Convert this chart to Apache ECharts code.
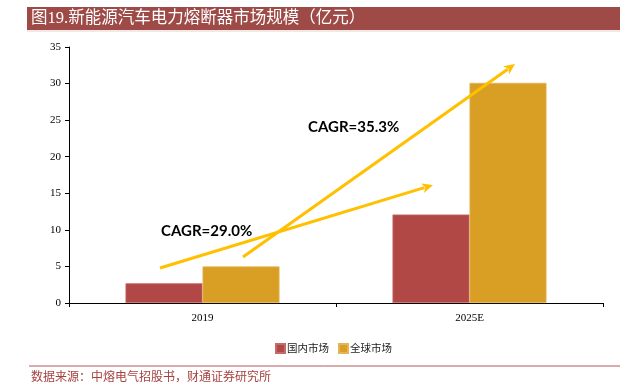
<!DOCTYPE html>
<html>
<head>
<meta charset="utf-8">
<script src="https://cdn.jsdelivr.net/npm/echarts@6/dist/echarts.min.js"></script>
<style>html,body{margin:0;padding:0;background:#fff;}#c{width:642px;height:386px;}</style>
</head>
<body>
<div id="c"></div>
<script>
const categories = ['2019', '2025E'];
const seriesNames = ['国内市场', '全球市场'];
const domestic = [2.7, 12.1];
const global = [5.0, 30.1];
const yTicks = [0, 5, 10, 15, 20, 25, 30, 35];
const titleText = '图19.新能源汽车电力熔断器市场规模（亿元）';
const sourceText = '数据来源：中熔电气招股书，财通证券研究所';
const cagrLabels = ['CAGR=29.0%', 'CAGR=35.3%'];

const arrowColor = '#FFC000';
function arrow(x1, y1, x2, y2) {
  const a = Math.atan2(y2 - y1, x2 - x1);
  const L = 11, W = 5;
  const bx = x2 - L * Math.cos(a), by = y2 - L * Math.sin(a);
  const px = -Math.sin(a) * W, py = Math.cos(a) * W;
  return [
    { type: 'line', shape: { x1: x1, y1: y1, x2: bx + 2*Math.cos(a), y2: by + 2*Math.sin(a) }, style: { stroke: arrowColor, lineWidth: 3 }, z: 10 },
    { type: 'polygon', shape: { points: [[x2, y2], [bx + px, by + py], [bx + 3*Math.cos(a), by + 3*Math.sin(a)], [bx - px, by - py]] }, style: { fill: arrowColor }, z: 10 }
  ];
}

const chart = echarts.init(document.getElementById('c'), null, { renderer: 'canvas' });
const serif = '"Liberation Serif", "Times New Roman", "Noto Sans CJK SC", serif';
chart.setOption({
  animation: false,
  backgroundColor: '#fff',
  grid: { left: 69, right: 39, top: 47, bottom: 83, containLabel: false },
  legend: {
    data: seriesNames,
    left: 270, top: 338,
    itemWidth: 9, itemHeight: 9, itemGap: 9,
    icon: 'rect',
    textStyle: { fontSize: 10.5, color: '#222', fontFamily: '"Noto Sans CJK SC", sans-serif', padding: [0, 0, 0, -3] }
  },
  xAxis: {
    type: 'category',
    data: categories,
    axisLine: { lineStyle: { color: '#000', width: 1 } },
    axisTick: { show: true, length: 4, lineStyle: { color: '#000' } },
    axisLabel: { color: '#000', fontSize: 11, fontFamily: serif, margin: 10 }
  },
  yAxis: {
    type: 'value',
    min: yTicks[0], max: yTicks[yTicks.length - 1], interval: 5,
    axisLine: { show: true, lineStyle: { color: '#000', width: 1 } },
    axisTick: { show: true, inside: false, length: 4, lineStyle: { color: '#000' } },
    splitLine: { show: false },
    axisLabel: { color: '#000', fontSize: 11, fontFamily: serif, margin: 8 }
  },
  series: [
    { name: seriesNames[0], type: 'bar', data: domestic, barWidth: 77, barGap: '0%',
      itemStyle: { color: '#B14846', borderColor: '#C46A68', borderWidth: 0.8 } },
    { name: seriesNames[1], type: 'bar', data: global, barWidth: 77, barGap: '0%',
      itemStyle: { color: '#D99E24', borderColor: '#E4B456', borderWidth: 0.8 } }
  ],
  graphic: [
    { type: 'rect', shape: { x: 27, y: 7, width: 593, height: 23 }, style: { fill: '#9E4A47' }, z: 5 },
    { type: 'line', shape: { x1: 27, y1: 31, x2: 620, y2: 31 }, style: { stroke: '#E8D0CF', lineWidth: 1 }, z: 5 },
    { type: 'text', x: 31, y: 19, style: { text: titleText, fill: '#fff', font: '16.5px ' + serif, verticalAlign: 'middle' }, z: 6 },
    { type: 'line', shape: { x1: 29, y1: 366, x2: 620, y2: 366 }, style: { stroke: '#B05B58', lineWidth: 1 }, z: 5 },
    { type: 'text', x: 31, y: 376, style: { text: sourceText, fill: '#A5423F', font: '12px "Noto Sans CJK SC", sans-serif', verticalAlign: 'middle' }, z: 6 },
    ...arrow(160, 268, 433, 185),
    ...arrow(243, 257, 515, 64),
    { type: 'text', x: 161, y: 231, style: { text: cagrLabels[0], fill: '#000', font: 'bold 15px Lato, "Open Sans", sans-serif', verticalAlign: 'middle' }, z: 11 },
    { type: 'text', x: 308, y: 127, style: { text: cagrLabels[1], fill: '#000', font: 'bold 15px Lato, "Open Sans", sans-serif', verticalAlign: 'middle' }, z: 11 }
  ]
});
</script>
</body>
</html>
